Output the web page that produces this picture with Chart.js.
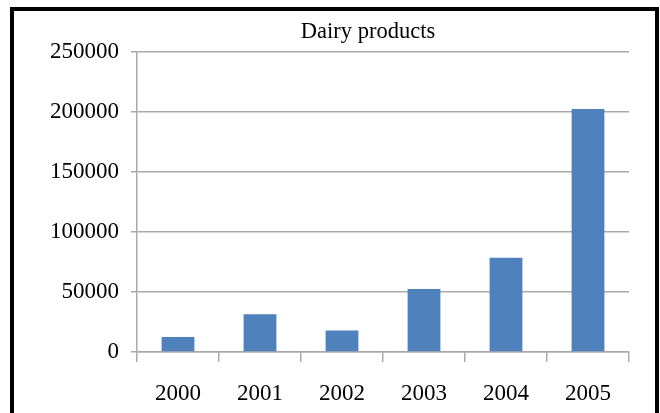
<!DOCTYPE html>
<html>
<head>
<meta charset="utf-8">
<script src="https://cdn.jsdelivr.net/npm/chart.js@4"></script>
<style>
  body { margin: 0; background: #fff; }
  #wrap { position: relative; width: 660px; height: 413px; overflow: hidden; }
  #frame {
    position: absolute; left: 10px; top: 7px; width: 649px; height: 440px;
    border: 4px solid #000; box-sizing: border-box;
  }
  #chart { position: absolute; left: 0; top: 0; }
</style>
</head>
<body>
<div id="wrap">
  <div id="frame"></div>
  <canvas id="chart" width="736" height="413"></canvas>
</div>
<script>
const years = ["2000", "2001", "2002", "2003", "2004", "2005"];
const dairy = [12500, 31500, 18000, 52500, 78500, 202500];
const yMax = 250000;
const yStep = 50000;

const font = { family: "'Liberation Serif', 'Times New Roman', serif", size: 23 };
const gridColor = "#aaaaaa";

new Chart(document.getElementById("chart"), {
  type: "bar",
  data: {
    labels: years,
    datasets: [{
      label: "Dairy products",
      data: dairy,
      backgroundColor: "#4f81bd",
      barPercentage: 0.4,
      categoryPercentage: 1
    }]
  },
  options: {
    responsive: false,
    animation: false,
    layout: { padding: { left: 0, right: 0, top: 19, bottom: 0 } },
    plugins: {
      legend: { display: false },
      tooltip: { enabled: false },
      title: {
        display: true,
        text: "Dairy products",
        color: "#000",
        font: { family: font.family, size: 22.5, weight: "normal" },
        padding: { top: 0, bottom: 6 }
      }
    },
    scales: {
      x: {
        afterFit: (scale) => { scale.height = 61; },
        grid: { drawOnChartArea: false, drawTicks: true, tickLength: 10, color: gridColor, lineWidth: 1.5, offset: true },
        border: { color: gridColor, width: 1.5 },
        ticks: { color: "#000", font: font, padding: 18.5, maxRotation: 0 }
      },
      y: {
        min: 0,
        max: yMax,
        afterFit: (scale) => { scale.width = 137; },
        grid: { color: gridColor, lineWidth: 1.5, tickLength: 6 },
        border: { color: gridColor, width: 1.5 },
        ticks: { stepSize: yStep, color: "#000", font: font, padding: 12, callback: (v) => String(v) }
      },
      // empty space to the right of the plot, hidden by the page edge
      spare: {
        type: "linear",
        position: "right",
        afterFit: (scale) => { scale.width = 107; },
        grid: { display: false },
        border: { display: false },
        ticks: { display: false }
      }
    }
  }
});
</script>
</body>
</html>
